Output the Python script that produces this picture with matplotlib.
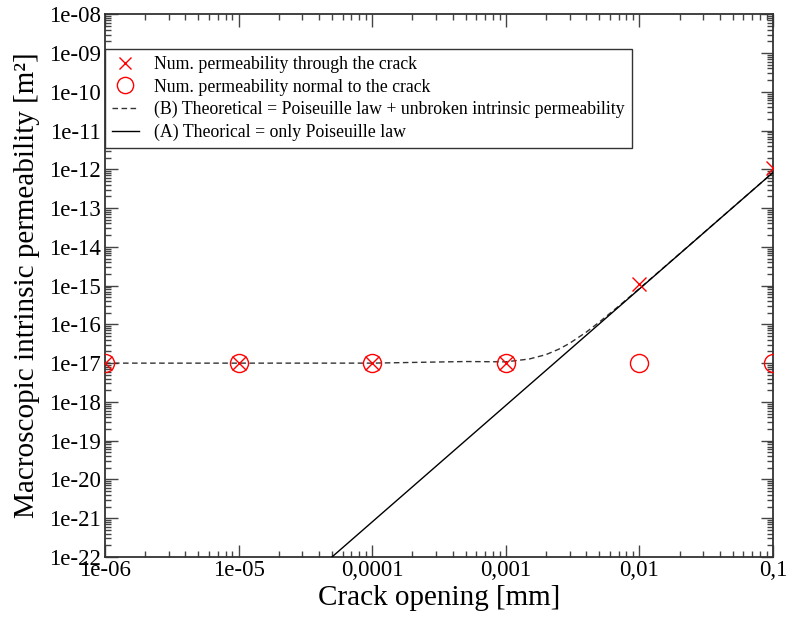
import matplotlib
matplotlib.use("Agg")
import matplotlib.pyplot as plt
from matplotlib.ticker import LogLocator, NullFormatter

plt.rcParams['font.family'] = ['Liberation Serif', 'DejaVu Serif']
plt.rcParams['mathtext.fontset'] = 'stix'

# Data
crack_opening = [1e-6, 1e-5, 1e-4, 1e-3, 1e-2, 1e-1]
perm_through = [1e-17, 1e-17, 1e-17, 1e-17, 1.1e-15, 1.08e-12]
perm_normal = [1e-17, 1e-17, 1e-17, 1e-17, 1e-17, 1e-17]

theo_b_x = [1e-6, 1e-5, 1e-4, 5e-4, 1e-3, 1.5e-3, 2e-3, 2.5e-3, 3e-3, 4e-3, 5e-3, 7e-3, 1e-2, 2e-2, 5e-2, 1e-1]
theo_b_y = [1e-17, 1e-17, 1.0008e-17, 1.1e-17, 1.08e-17, 1.28e-17, 1.66e-17, 2.3e-17, 3.24e-17, 6.3e-17, 1.14e-16, 2.95e-16, 8.4e-16, 6.65e-15, 1.04e-13, 8.3e-13]

theo_a_x = [5e-5, 1e-1]
theo_a_y = [1e-22, 8.3e-13]

xtick_vals = [1e-6, 1e-5, 1e-4, 1e-3, 1e-2, 1e-1]
xtick_labels = ["1e-06", "1e-05", "0,0001", "0,001", "0,01", "0,1"]
ytick_vals = [1e-22, 1e-21, 1e-20, 1e-19, 1e-18, 1e-17, 1e-16, 1e-15, 1e-14, 1e-13, 1e-12, 1e-11, 1e-10, 1e-09, 1e-08]
ytick_labels = ["1e-22", "1e-21", "1e-20", "1e-19", "1e-18", "1e-17", "1e-16", "1e-15", "1e-14", "1e-13", "1e-12", "1e-11", "1e-10", "1e-09", "1e-08"]

legend_labels = ["Num. permeability through the crack",
                 "Num. permeability normal to the crack",
                 "(B) Theoretical = Poiseuille law + unbroken intrinsic permeability",
                 "(A) Theorical = only Poiseuille law"]

fig = plt.figure(figsize=(7.88, 6.19), dpi=100)
ax = fig.add_axes([0.1332, 0.1002, 0.981 - 0.1332, 0.977 - 0.1002])

ax.set_xscale('log')
ax.set_yscale('log')

l1, = ax.plot(crack_opening, perm_through, linestyle='none', marker='x', markersize=10,
              markeredgewidth=1.0, color='#ff0000', label=legend_labels[0], zorder=4)
l2, = ax.plot(crack_opening, perm_normal, linestyle='none', marker='o', markersize=13,
              markerfacecolor='none', markeredgewidth=1.0, markeredgecolor='#ff0000',
              label=legend_labels[1], zorder=4)
l3, = ax.plot(theo_b_x, theo_b_y, linestyle=(0, (4, 2.5)), color='#333333', linewidth=1.0,
              label=legend_labels[2], zorder=3)
l4, = ax.plot(theo_a_x, theo_a_y, linestyle='-', color='black', linewidth=1.0,
              label=legend_labels[3], zorder=3)

ax.set_xlim(1e-6, 1e-1)
ax.set_ylim(1e-22, 1e-8)

ax.set_xticks(xtick_vals)
ax.set_xticklabels(xtick_labels)
ax.set_yticks(ytick_vals)
ax.set_yticklabels(ytick_labels)
ax.xaxis.set_minor_locator(LogLocator(base=10, subs=range(2, 10), numticks=100))
ax.yaxis.set_minor_locator(LogLocator(base=10, subs=range(2, 10), numticks=100))
ax.xaxis.set_minor_formatter(NullFormatter())
ax.yaxis.set_minor_formatter(NullFormatter())

ax.tick_params(which='both', direction='in', top=True, right=True, labelsize=16.5,
               width=1.0, color='#444444')
ax.tick_params(which='major', length=9)
ax.tick_params(which='minor', length=4.5)
ax.tick_params(axis='x', pad=2)
ax.tick_params(axis='y', pad=3)

for s in ax.spines.values():
    s.set_linewidth(1.3)
    s.set_color('#333333')

ax.set_xlabel("Crack opening [mm]", fontsize=21, labelpad=3)
ax.set_ylabel("Macroscopic intrinsic permeability [m²]", fontsize=21, labelpad=6)

leg = ax.legend(handles=[l1, l2, l3, l4], loc='upper left', bbox_to_anchor=(0.0, 0.9355),
                borderaxespad=0, fontsize=12.8, frameon=True, fancybox=False,
                edgecolor='#333333', framealpha=1, handlelength=1.5, handletextpad=0.85,
                borderpad=0.4, labelspacing=0.3, markerscale=0.9)
leg.get_frame().set_linewidth(1.0)

fig.savefig("out.png", dpi=100)
